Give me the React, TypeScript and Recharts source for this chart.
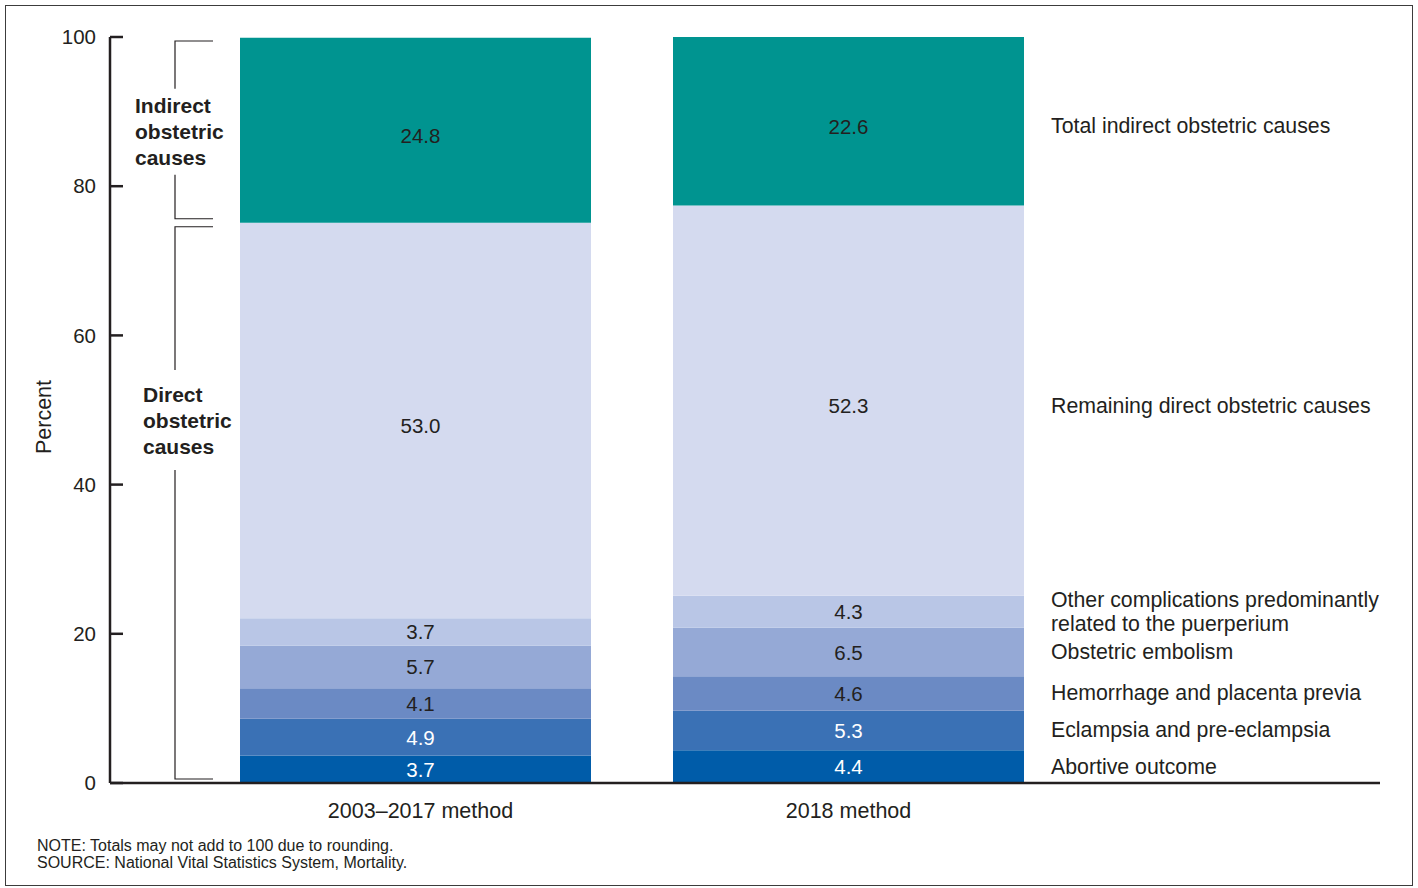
import type { JSX } from "react";
import {
  Bar,
  BarChart,
  LabelList,
  ReferenceArea,
  XAxis,
  YAxis,
} from "recharts";

const categories = ["2003–2017 method", "2018 method"];

const abortive = [3.7, 4.4];
const eclampsia = [4.9, 5.3];
const hemorrhage = [4.1, 4.6];
const embolism = [5.7, 6.5];
const otherPuerperium = [3.7, 4.3];
const remainingDirect = [53.0, 52.3];
const totalIndirect = [24.8, 22.6];

const yTicks = [0, 20, 40, 60, 80, 100];

const seriesKeys = [
  "abortive",
  "eclampsia",
  "hemorrhage",
  "embolism",
  "otherPuerperium",
  "remainingDirect",
  "totalIndirect",
];
const seriesValues = [
  abortive,
  eclampsia,
  hemorrhage,
  embolism,
  otherPuerperium,
  remainingDirect,
  totalIndirect,
];
const seriesNames = [
  ["Abortive outcome"],
  ["Eclampsia and pre-eclampsia"],
  ["Hemorrhage and placenta previa"],
  ["Obstetric embolism"],
  ["Other complications predominantly", "related to the puerperium"],
  ["Remaining direct obstetric causes"],
  ["Total indirect obstetric causes"],
];
const seriesColors = [
  "#005ca9",
  "#3a71b5",
  "#6b8ac4",
  "#95a9d6",
  "#b9c6e6",
  "#d4daef",
  "#009490",
];
const valueColors = [
  "#ffffff",
  "#ffffff",
  "#231f20",
  "#231f20",
  "#231f20",
  "#231f20",
  "#231f20",
];

const data = categories.map((name, i) => {
  const row: Record<string, string | number> = { name };
  seriesKeys.forEach((k, s) => {
    row[k] = seriesValues[s][i];
  });
  return row;
});

// boundary between the two brackets: direct causes of the first bar
const directTotal = [abortive, eclampsia, hemorrhage, embolism, otherPuerperium, remainingDirect]
  .reduce((sum, arr) => sum + arr[0], 0);

const FONT = '"Liberation Sans", Arial, Helvetica, sans-serif';
const INK = "#231f20";

// the first column's texts sit a few px right of its centre in the original
const firstShift = 5;

function makeLabel(s: number) {
  return (props: any): JSX.Element => {
    const { x, y, width, height, value, index } = props;
    const cx = Number(x) + Number(width) / 2 + (index === 0 ? firstShift : 0);
    const cy = Number(y) + Number(height) / 2 + (Number(height) > 150 ? 5 : 0);
    const lines = seriesNames[s];
    return (
      <g>
        <text
          x={cx}
          y={cy}
          textAnchor="middle"
          dominantBaseline="central"
          fontSize={20.5}
          fontFamily={FONT}
          fill={valueColors[s]}
        >
          {Number(value).toFixed(1)}
        </text>
        {index === categories.length - 1 &&
          lines.map((line, li) => (
            <text
              key={line}
              x={Number(x) + Number(width) + 27}
              y={cy + (li - (lines.length - 1) / 2) * 24}
              dominantBaseline="central"
              fontSize={21.3}
              fontFamily={FONT}
              fill={INK}
            >
              {line}
            </text>
          ))}
      </g>
    );
  };
}

// area x is the first category band edge; bracket sits left of it
function makeBracket(lines: string[], textDx: number, textFrac: number, gapHalf: number) {
  return (props: any): JSX.Element => {
    const x = Number(props.x);
    const top = Number(props.y) + 4;
    const bottom = Number(props.y) + Number(props.height) - 4;
    const vx = x - 24;
    const hx = x + 14;
    const ty = top + (bottom - top) * textFrac;
    return (
      <g>
        <path
          d={`M${hx},${top}H${vx}V${ty - gapHalf}M${vx},${ty + gapHalf}V${bottom}H${hx}`}
          fill="none"
          stroke={INK}
          strokeWidth={1.2}
        />
        {lines.map((line, li) => (
          <text
            key={line}
            x={x + textDx}
            y={ty + (li - 1) * 26}
            dominantBaseline="central"
            fontSize={21}
            fontWeight="bold"
            fontFamily={FONT}
            fill={INK}
          >
            {line}
          </text>
        ))}
      </g>
    );
  };
}

function CategoryTick(props: any): JSX.Element {
  const { x, y, payload, index } = props;
  return (
    <text
      x={Number(x) + (index === 0 ? firstShift : 0)}
      y={Number(y)}
      dy="0.71em"
      textAnchor="middle"
      fontSize={21.5}
      fontFamily={FONT}
      fill={INK}
    >
      {payload.value}
    </text>
  );
}

export default function App(): JSX.Element {
  return (
    <div style={{ position: "absolute", left: 0, top: 0, width: 1418, height: 888, background: "#fff" }}>
      <style>{`body{margin:0}`}</style>
      <div
        style={{
          position: "absolute",
          left: 5,
          top: 5,
          width: 1406,
          height: 879,
          border: "1.5px solid #3c3c3c",
        }}
      />
      <div style={{ position: "absolute", left: 0, top: 0 }}>
        <BarChart
          width={1418}
          height={888}
          data={data}
          margin={{ top: 37, right: 38, bottom: 75, left: 30 }}
        >
          <XAxis
            dataKey="name"
            height={30}
            padding={{ left: 89, right: 315 }}
            axisLine={{ stroke: INK, strokeWidth: 2.5 }}
            tickLine={false}
            tickMargin={14}
            tick={<CategoryTick />}
          />
          <YAxis
            type="number"
            domain={[0, 100]}
            ticks={yTicks}
            width={80}
            axisLine={{ stroke: INK, strokeWidth: 2.5 }}
            tickLine={{ stroke: INK, strokeWidth: 2.5 }}
            tickSize={-13}
            tickMargin={27}
            tick={{ fontSize: 20.5, fill: INK, fontFamily: FONT }}
            label={(p: any) => {
              const vb = p.viewBox || {};
              const lx = Number(vb.x) + 14;
              const ly = Number(vb.y) + Number(vb.height) / 2 + 7;
              return (
                <text
                  x={lx}
                  y={ly}
                  transform={`rotate(-90 ${lx} ${ly})`}
                  textAnchor="middle"
                  dominantBaseline="central"
                  fontSize={21.5}
                  fontFamily={FONT}
                  fill={INK}
                >
                  Percent
                </text>
              );
            }}
          />
          <ReferenceArea
            y1={directTotal}
            y2={100}
            fill="none"
            stroke="none"
            shape={makeBracket(["Indirect", "obstetric", "causes"], -64, 0.51, 43)}
          />
          <ReferenceArea
            y1={0}
            y2={directTotal}
            fill="none"
            stroke="none"
            shape={makeBracket(["Direct", "obstetric", "causes"], -56, 0.35, 50)}
          />
          {seriesKeys.map((k, s) => (
            <Bar
              key={k}
              dataKey={k}
              stackId="a"
              fill={seriesColors[s]}
              barSize={351}
              isAnimationActive={false}
            >
              <LabelList dataKey={k} content={makeLabel(s)} />
            </Bar>
          ))}
        </BarChart>
      </div>
      <div
        style={{
          position: "absolute",
          left: 37,
          top: 837,
          fontFamily: FONT,
          fontSize: 16,
          lineHeight: "17px",
          color: INK,
        }}
      >
        <div>NOTE: Totals may not add to 100 due to rounding.</div>
        <div>SOURCE: National Vital Statistics System, Mortality.</div>
      </div>
    </div>
  );
}
